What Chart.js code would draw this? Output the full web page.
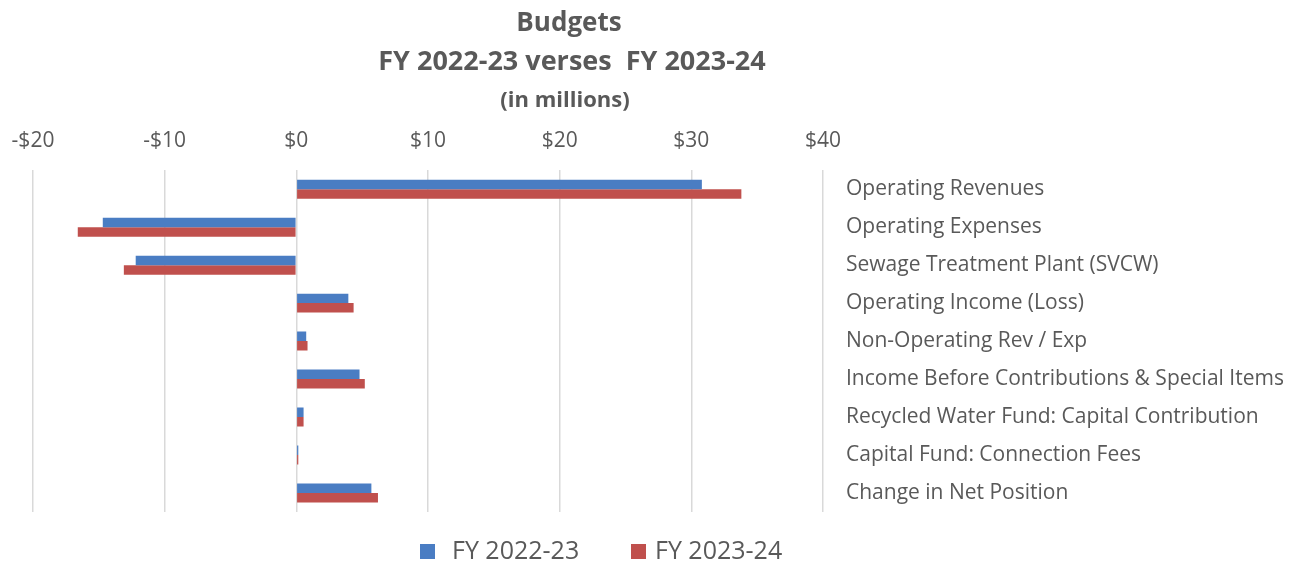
<!DOCTYPE html>
<html>
<head>
<meta charset="utf-8">
<script src="https://cdn.jsdelivr.net/npm/chart.js@4"></script>
<style>
  html, body { margin: 0; padding: 0; background: #fff; }
  #wrap { width: 1297px; height: 566px; }
</style>
</head>
<body>
<div id="wrap"><canvas id="budgetChart" width="1297" height="566"></canvas></div>
<script>
// data (millions)
const categories = [
    'Operating Revenues',
    'Operating Expenses',
    'Sewage Treatment Plant (SVCW)',
    'Operating Income (Loss)',
    'Non-Operating Rev / Exp',
    'Income Before Contributions & Special Items',
    'Recycled Water Fund: Capital Contribution',
    'Capital Fund: Connection Fees',
    'Change in Net Position'
];
const fy2223 = [30.8, -14.7, -12.2, 3.95, 0.75, 4.8, 0.55, 0.15, 5.7];
const fy2324 = [33.8, -16.6, -13.1, 4.35, 0.85, 5.2, 0.55, 0.15, 6.2];
const tickValues = [-20, -10, 0, 10, 20, 30, 40];
const tickLabels = ['-$20', '-$10', '$0', '$10', '$20', '$30', '$40'];
const titleLines = ['Budgets', 'FY 2022-23 verses  FY 2023-24', '(in millions)'];

const FONT = "'Open Sans', sans-serif";
const GREY = '#595959';

// title + legend drawn by hand so they sit where the original has them
const headerAndLegend = {
    id: 'headerAndLegend',
    afterDraw(chart) {
        const ctx = chart.ctx;
        ctx.save();
        ctx.fillStyle = GREY;
        ctx.textAlign = 'center';
        ctx.textBaseline = 'middle';
        ctx.font = 'bold 26px ' + FONT;
        ctx.fillText(titleLines[0], 569, 24);
        ctx.font = 'bold 27px ' + FONT;
        ctx.fillText(titleLines[1], 572, 62);
        ctx.font = 'bold 22px ' + FONT;
        ctx.fillText(titleLines[2], 565, 101);

        // legend
        const items = chart.data.datasets;
        const boxX = [420, 631];
        const textX = [452, 655];
        ctx.textAlign = 'left';
        ctx.font = '25px ' + FONT;
        items.forEach((ds, i) => {
            ctx.fillStyle = ds.backgroundColor;
            ctx.fillRect(boxX[i], 544, 15, 15);
            ctx.fillStyle = GREY;
            ctx.fillText(ds.label, textX[i], 552);
        });
        ctx.restore();
    }
};

new Chart(document.getElementById('budgetChart'), {
    type: 'bar',
    data: {
        labels: categories,
        datasets: [
            { label: 'FY 2022-23', data: fy2223, backgroundColor: '#4A7DC3' },
            { label: 'FY 2023-24', data: fy2324, backgroundColor: '#C0504D' }
        ]
    },
    options: {
        indexAxis: 'y',
        responsive: false,
        animation: false,
        datasets: { bar: { categoryPercentage: 0.5, barPercentage: 1.0 } },
        layout: { padding: { left: 33, right: 0, top: 111, bottom: 54 } },
        plugins: {
            legend: { display: false },
            title: { display: false },
            tooltip: { enabled: false }
        },
        scales: {
            x: {
                position: 'top',
                min: -20,
                max: 40,
                afterBuildTicks: (s) => { s.ticks = tickValues.map(v => ({ value: v })); },
                afterFit: (s) => { s.paddingLeft = 0; s.paddingRight = 0; },
                ticks: {
                    color: GREY,
                    font: { family: FONT, size: 21 },
                    padding: 17,
                    callback: (v) => tickLabels[tickValues.indexOf(v)]
                },
                grid: { color: '#d9d9d9', lineWidth: 1.5, drawTicks: false },
                border: { display: false }
            },
            y: {
                position: 'right',
                afterFit: (s) => { s.width = 474; },
                ticks: {
                    color: GREY,
                    font: { family: FONT, size: 21 },
                    padding: 23,
                    crossAlign: 'near'
                },
                grid: { display: false, drawTicks: false },
                border: { display: false }
            }
        }
    },
    plugins: [headerAndLegend]
});
</script>
</body>
</html>
